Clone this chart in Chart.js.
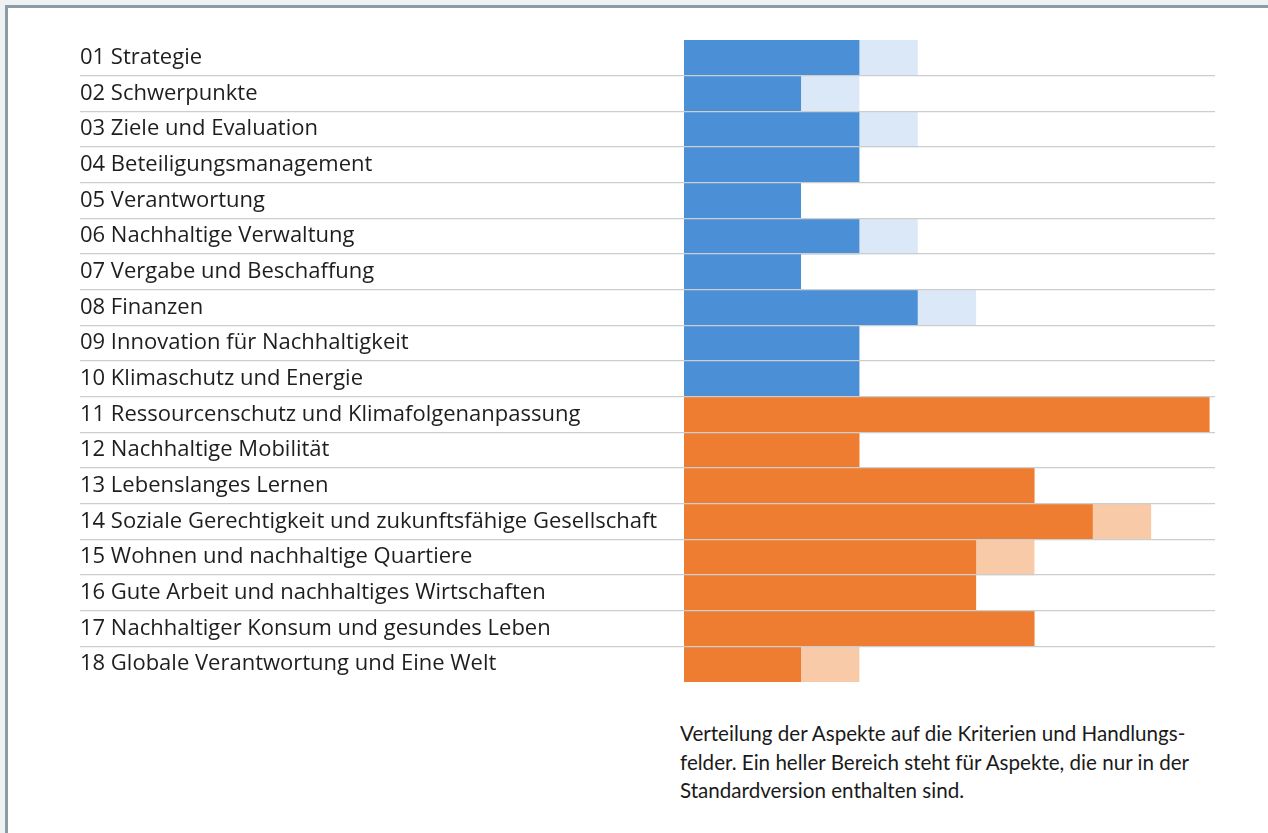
<!DOCTYPE html>
<html lang="de">
<head>
<meta charset="utf-8">
<title>Verteilung der Aspekte</title>
<script src="https://cdn.jsdelivr.net/npm/chart.js@4/dist/chart.umd.min.js"></script>
<style>
    html, body {
        margin: 0;
        padding: 0;
        background: #eef2f3;
        width: 1268px;
        height: 833px;
        overflow: hidden;
    }
    .panel {
        position: absolute;
        left: 5px;
        top: 5px;
        width: 1300px;
        height: 900px;
        background: #fff;
        border-left: 3px solid #8c9ba6;
        border-top: 3px solid #8c9ba6;
    }
    #chart {
        position: absolute;
        left: 80px;
        top: 40px;
    }
    .caption {
        position: absolute;
        left: 680px;
        top: 719px;
        font-family: Lato, "Noto Sans", sans-serif;
        font-size: 20.6px;
        line-height: 28.5px;
        color: #1a1a1a;
        white-space: nowrap;
    }
</style>
</head>
<body>
<div class="panel"></div>
<canvas id="chart" width="1135" height="642"></canvas>
<div class="caption">
    Verteilung der Aspekte auf die Kriterien und Handlungs-<br>
    felder. Ein heller Bereich steht für Aspekte, die nur in der<br>
    Standardversion enthalten sind.
</div>

<script>
// Kriterien (01-10) und Handlungsfelder (11-18)
const categories = [
    '01 Strategie',
    '02 Schwerpunkte',
    '03 Ziele und Evaluation',
    '04 Beteiligungsmanagement',
    '05 Verantwortung',
    '06 Nachhaltige Verwaltung',
    '07 Vergabe und Beschaffung',
    '08 Finanzen',
    '09 Innovation für Nachhaltigkeit',
    '10 Klimaschutz und Energie',
    '11 Ressourcenschutz und Klimafolgenanpassung',
    '12 Nachhaltige Mobilität',
    '13 Lebenslanges Lernen',
    '14 Soziale Gerechtigkeit und zukunftsfähige Gesellschaft',
    '15 Wohnen und nachhaltige Quartiere',
    '16 Gute Arbeit und nachhaltiges Wirtschaften',
    '17 Nachhaltiger Konsum und gesundes Leben',
    '18 Globale Verantwortung und Eine Welt'
];

// Aspekte in allen Versionen
const coreAspects = [3, 2, 3, 3, 2, 3, 2, 4, 3, 3, 9, 3, 6, 7, 5, 5, 6, 2];

// zusätzliche Aspekte nur in der Standardversion (heller Bereich)
const standardOnlyAspects = [1, 1, 1, 0, 0, 1, 0, 1, 0, 0, 0, 0, 0, 1, 1, 0, 0, 1];

const criteriaCount = 10;

const colors = {
    blue: '#4b8fd7',
    lightBlue: '#dbe8f7',
    orange: '#ee7d31',
    lightOrange: '#f8caa8',
    grid: '#cbcdcf',
    text: '#1e1e1e'
};

function pick(dark) {
    return function(ctx) {
        const isCriterion = ctx.dataIndex < criteriaCount;
        if (dark) return isCriterion ? colors.blue : colors.orange;
        return isCriterion ? colors.lightBlue : colors.lightOrange;
    };
}

function separatorColor(ctx) {
    // only the lines between rows, not above the first or below the last
    if (!(ctx.index > 0)) return 'transparent';
    return colors.grid;
}

const ctx = document.getElementById('chart');

new Chart(ctx.getContext('2d'), {
    type: 'bar',
    data: {
        labels: categories,
        datasets: [
            {
                label: 'Aspekte',
                data: coreAspects,
                backgroundColor: pick(true),
                borderWidth: 0,
                barPercentage: 1,
                categoryPercentage: 1
            },
            {
                label: 'Nur Standardversion',
                data: standardOnlyAspects,
                backgroundColor: pick(false),
                borderWidth: 0,
                barPercentage: 1,
                categoryPercentage: 1
            }
        ]
    },
    options: {
        indexAxis: 'y',
        responsive: false,
        animation: false,
        layout: {
            padding: 0
        },
        plugins: {
            legend: {
                display: false
            },
            tooltip: {
                mode: 'index',
                intersect: false
            }
        },
        scales: {
            x: {
                stacked: true,
                display: false,
                min: 0,
                max: 9.1
            },
            y: {
                stacked: true,
                border: {
                    display: false
                },
                grid: {
                    offset: true,
                    z: 1,
                    color: separatorColor,
                    tickColor: separatorColor,
                    tickLength: 604,
                    lineWidth: 1.3
                },
                ticks: {
                    crossAlign: 'far',
                    padding: 0,
                    color: colors.text,
                    font: {
                        family: '"Open Sans", sans-serif',
                        size: 22
                    }
                },
                afterFit: function(scale) {
                    scale.width = 604;
                    // rows fill the full height, no room kept for label overhang
                    scale.paddingTop = 0;
                    scale.paddingBottom = 0;
                }
            }
        }
    }
});
</script>
</body>
</html>
